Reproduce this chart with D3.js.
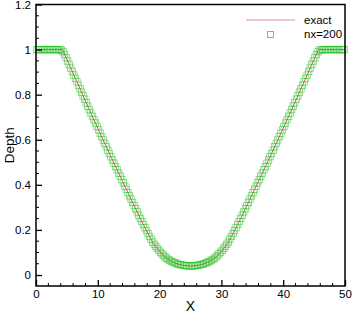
<!DOCTYPE html>
<html><head><meta charset="utf-8">
<script src="https://cdn.jsdelivr.net/npm/d3@7"></script>
<style>body{margin:0;background:#fff}svg{display:block}text{font-family:"Liberation Sans",Arial,sans-serif}</style>
</head><body><svg id="c" width="352" height="313"></svg>
<script>
const xTicks = [0,10,20,30,40,50];
const yTicks = [0,0.2,0.4,0.6,0.8,1,1.2];
const yTickLabels = ["0","0.2","0.4","0.6","0.8","1","1.2"];
const seriesNames = ["exact","nx=200"];

const exactX = [0,4.3,5,6,7,8,9,10,11,12,13,14,15,16,17,18,19,20,21,22,23,24,25,26,27,28,29,30,31,32,33,34,35,36,37,38,39,40,41,42,43,44,45,45.7,50];
const exactH = [1,1,0.957,0.895,0.834,0.772,0.711,0.651,0.591,0.532,0.474,0.416,0.358,0.301,0.244,0.190,0.140,0.104,0.076,0.059,0.048,0.042,0.040,0.042,0.048,0.059,0.076,0.104,0.140,0.190,0.244,0.301,0.358,0.416,0.474,0.532,0.591,0.651,0.711,0.772,0.834,0.895,0.957,1,1];

const numLeft = [1,1,1,1,1,1,1,1,1,1,1,1,1,1,1,0.999,
0.997,0.990,0.978,0.964,
0.949,0.934,0.918,0.903,
0.887,0.872,0.857,0.842,
0.826,0.811,0.795,0.780,
0.764,0.749,0.734,0.719,
0.704,0.689,0.674,0.659,
0.644,0.629,0.614,0.599,
0.584,0.569,0.554,0.539,
0.525,0.510,0.496,0.481,
0.467,0.452,0.438,0.423,
0.409,0.394,0.380,0.365,
0.351,0.337,0.322,0.308,
0.294,0.280,0.265,0.251,
0.237,0.224,0.210,0.197,
0.184,0.171,0.159,0.146,
0.136,0.127,0.118,0.109,
0.101,0.094,0.087,0.080,
0.074,0.069,0.065,0.061,
0.058,0.055,0.052,0.049,
0.047,0.046,0.044,0.043,
0.042,0.041,0.040,0.040];
const numRight = [0.040,0.040,0.041,0.042,
0.043,0.044,0.046,0.047,
0.049,0.052,0.055,0.058,
0.061,0.065,0.069,0.074,
0.080,0.087,0.094,0.101,
0.109,0.118,0.127,0.136,
0.146,0.159,0.171,0.184,
0.197,0.210,0.224,0.237,
0.251,0.265,0.280,0.294,
0.308,0.322,0.337,0.351,
0.365,0.380,0.394,0.409,
0.423,0.438,0.452,0.467,
0.481,0.496,0.510,0.525,
0.539,0.554,0.569,0.584,
0.599,0.614,0.629,0.644,
0.659,0.674,0.689,0.704,
0.719,0.734,0.749,0.764,
0.780,0.795,0.811,0.826,
0.842,0.857,0.872,0.887,
0.903,0.918,0.934,0.949,
0.964,0.978,0.990,0.997,
0.999,1,1,1,1,1,1,1,1,1,1,1,1,1,1,1];
const numH = numLeft.concat(numRight);
const nx = 200, xMin = 0, xMax = 50;
const dx = (xMax - xMin) / nx;
const numX = numH.map((h,i) => xMin + dx*(i+0.5));

const svg = d3.select("#c");
const L = 36, R = 345, T = 4.5, B = 286;
const x = d3.scaleLinear().domain([0,50]).range([L,R]);
const y = d3.scaleLinear().domain([0,1.2]).range([275,T]);
const yBottom = y.invert(B);

// exact line
const line = d3.line().x((d,i)=>x(exactX[i])).y(d=>y(d));
svg.append("path").datum(exactH).attr("d",line).attr("fill","none")
  .attr("stroke","#d05050").attr("stroke-width",1);

// numerical squares
const s = 6.4;
svg.append("g").selectAll("rect").data(numH).enter().append("rect")
  .attr("x",(d,i)=>x(numX[i])-s/2).attr("y",d=>y(d)-s/2).attr("width",s).attr("height",s)
  .attr("fill","none").attr("stroke","#22c022").attr("stroke-width",0.8).attr("stroke-opacity",0.6);

// frame
svg.append("rect").attr("x",L).attr("y",T).attr("width",R-L).attr("height",B-T)
  .attr("fill","none").attr("stroke","#000").attr("stroke-width",1.5);

// x axis with inward ticks
const xAxis = d3.axisBottom(x).tickValues(xTicks).tickSize(-6).tickPadding(4).tickFormat(d3.format("d"));
const gx = svg.append("g").attr("transform",`translate(0,${B})`).call(xAxis);
const xMinor = d3.range(0,51,2).filter(v=>v%10!==0);
gx.selectAll(".minor").data(xMinor).enter().append("line").attr("class","minor")
  .attr("x1",d=>x(d)).attr("x2",d=>x(d)).attr("y1",0).attr("y2",-3).attr("stroke","#000");
gx.select(".domain").remove();
gx.selectAll(".tick line").attr("stroke-width",1.3);
gx.selectAll("text").attr("font-size",11.5).attr("fill","#000");

const yAxis = d3.axisLeft(y).tickValues(yTicks).tickSize(-6).tickPadding(5).tickFormat((d,i)=>yTickLabels[i]);
const gy = svg.append("g").attr("transform",`translate(${L},0)`).call(yAxis);
const yMinor = d3.range(-1,25).map(v=>v*0.05).filter(v=>Math.round(v*100)%20!==0 && v<=1.2 && v>=yBottom-1e-6);
gy.selectAll(".minor").data(yMinor).enter().append("line").attr("class","minor")
  .attr("x1",0).attr("x2",3).attr("y1",d=>y(d)).attr("y2",d=>y(d)).attr("stroke","#000");
gy.select(".domain").remove();
gy.selectAll(".tick line").attr("stroke-width",1.3);
gy.selectAll("text").attr("font-size",11.5).attr("fill","#000");
gx.attr("font-family",null); gy.attr("font-family",null);

// legend
svg.append("line").attr("x1",246).attr("x2",295).attr("y1",20).attr("y2",20)
  .attr("stroke","#d05050").attr("stroke-width",1).attr("stroke-opacity",0.6);
svg.append("text").attr("x",304).attr("y",24).attr("font-size",11.5).text(seriesNames[0]);
svg.append("rect").attr("x",267.5).attr("y",31.5).attr("width",6).attr("height",6)
  .attr("fill","none").attr("stroke","#66d066").attr("stroke-width",1);
svg.append("text").attr("x",304).attr("y",38).attr("font-size",11.5).text(seriesNames[1]);

// axis titles
svg.append("text").attr("x",(L+R)/2).attr("y",311).attr("text-anchor","middle").attr("font-size",14).text("X");
svg.append("text").attr("transform",`translate(14,${(T+B)/2}) rotate(-90)`).attr("text-anchor","middle").attr("font-size",13.5).text("Depth");
</script></body></html>
